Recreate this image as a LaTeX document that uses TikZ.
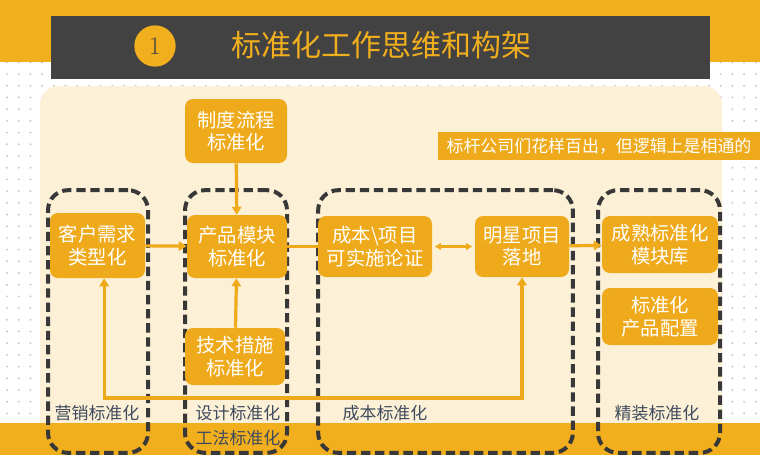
\documentclass[tikz,border=0pt]{standalone}
\usepackage{fontspec}
\newfontfamily\cjk{Noto Sans CJK SC}
\usetikzlibrary{positioning, arrows.meta}

\definecolor{gold}{HTML}{F1AE1D}
\definecolor{boxorange}{HTML}{EFAA1B}
\definecolor{cream}{HTML}{FCF0D6}
\definecolor{barcol}{HTML}{424242}
\definecolor{dashcol}{HTML}{383838}
\definecolor{labelcol}{HTML}{3E4B5E}
\definecolor{dotcol}{HTML}{C6C6C6}

\begin{document}
\begin{tikzpicture}[
  x=0.75pt, y=-0.75pt,
  >={Triangle[length=6pt, width=7pt]},
  flow/.style={->, draw=boxorange, line width=2.4pt},
  block/.style={rectangle, rounded corners=6pt, fill=boxorange, text=white,
    align=center, inner sep=0pt, font=\cjk\fontsize{14.5}{17}\selectfont},
  group/.style={rectangle, rounded corners=15pt, draw=dashcol, line width=3pt,
    dash pattern=on 7pt off 3.6pt, inner sep=0pt},
  grouplabel/.style={text=labelcol, inner sep=0pt, font=\cjk\fontsize{12.7}{15}\selectfont}
]
\useasboundingbox (0,0) rectangle (760,455);

% --- Background ---
\fill[white] (0,0) rectangle (760,455);
\foreach \i in {0,...,64}
  \foreach \j in {0,...,30}
    \fill[dotcol] ({7+11.7*\i},{62.4+11.7*\j}) circle (0.8pt);
\fill[gold] (0,0) rectangle (760,62);
\fill[cream] (40,86) [rounded corners=14pt] rectangle (722,440);
\fill[gold] (0,423) rectangle (760,455);

% --- Title bar ---
\fill[barcol] (51,16) rectangle (710,79);
\node[circle, fill=gold, minimum size=31pt, inner sep=0pt,
  font=\fontsize{19}{19}\selectfont, text=barcol] (num) at (155,46) {1};
\node[text=gold, font=\cjk\fontsize{22.5}{26}\selectfont] (title) at (381,45)
  {标准化工作思维和构架};

% --- Groups ---
\node[group, minimum width=75pt, minimum height=197pt] (g1) at (98,321.5) {};
\node[group, minimum width=76.5pt, minimum height=197pt] (g2) at (236,321.5) {};
\node[group, minimum width=191pt, minimum height=197pt] (g3) at (445.5,321.5) {};
\node[group, minimum width=91.5pt, minimum height=197pt] (g4) at (659,321.5) {};

\node[grouplabel] (l1) at (97,413) {营销标准化};
\node[grouplabel] (l2) at (238,413) {设计标准化};
\node[grouplabel] (l2b) at (238,438) {工法标准化};
\node[grouplabel] (l3) at (385,413) {成本标准化};
\node[grouplabel] (l4) at (657,413) {精装标准化};

% --- Blocks ---
\node[block, minimum width=76.5pt, minimum height=48pt] (zhidu) at (236,131) {制度流程\\标准化};
\node[block, minimum width=71.25pt, minimum height=48.75pt] (kehu) at (97.5,245.5) {客户需求\\类型化};
\node[block, minimum width=75pt, minimum height=47.25pt] (chanpin) at (237,246.5) {产品模块\\标准化};
\node[block, minimum width=75pt, minimum height=42.75pt] (jishu) at (235,356.5) {技术措施\\标准化};
\node[block, minimum width=85.5pt, minimum height=45.75pt] (chengben) at (375,246.5) {成本\textbackslash 项目\\可实施论证};
\node[block, minimum width=70.5pt, minimum height=45.75pt] (mingxing) at (522,246.5) {明星项目\\落地};
\node[block, minimum width=87pt, minimum height=42.75pt] (chengshu) at (660,244.5) {成熟标准化\\模块库};
\node[block, minimum width=87pt, minimum height=42.75pt] (peizhi) at (660,316.5) {标准化\\产品配置};

\node[rectangle, fill=boxorange, text=white, minimum width=241.5pt, minimum height=21pt,
  inner sep=0pt, font=\cjk\fontsize{12.7}{15}\selectfont] (note) at (599,146)
  {标杆公司们花样百出，但逻辑上是相通的};

% --- Arrows ---
\draw[flow] (zhidu) -- (chanpin);
\draw[flow] (kehu) -- (chanpin);
\draw[flow] (jishu) -- (chanpin);
\draw[flow, -] (chanpin) -- (chengben);
\draw[<->, draw=boxorange, line width=1.8pt, >={Triangle[length=4.5pt, width=5pt]}]
  ([xshift=2pt]chengben.east) -- ([xshift=-2pt]mingxing.west);
\draw[flow] (mingxing) -- (chengshu);

% feedback loop under the row
\coordinate (back) at (300,398);
\draw[flow, <->] ([xshift=5pt]kehu.south) |- (back) -| (mingxing.south);

\end{tikzpicture}
\end{document}
